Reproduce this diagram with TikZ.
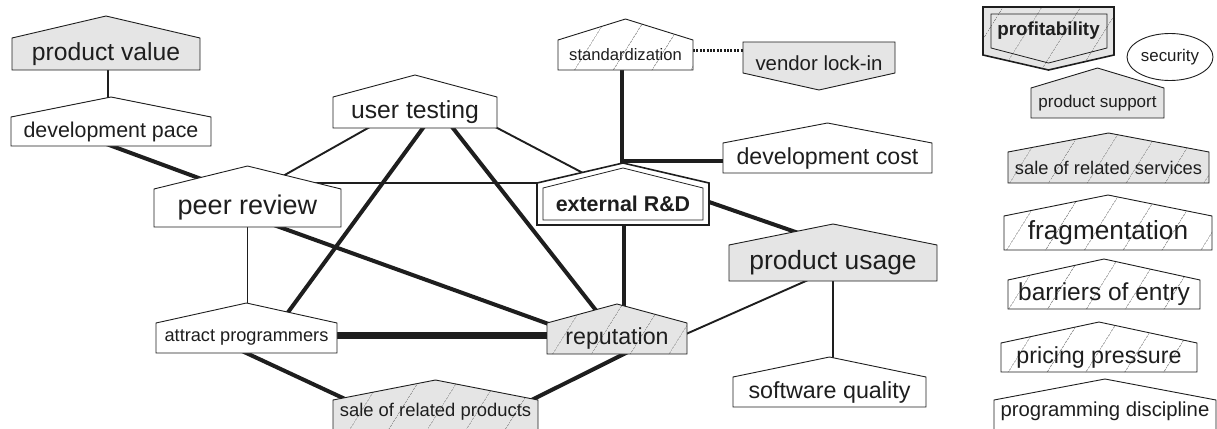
\documentclass[tikz,border=0pt]{standalone}
\usepackage{fontspec}
\setmainfont{Liberation Sans}
\usetikzlibrary{calc,patterns.meta,shapes.geometric}
\pgfdeclarelayer{edgelayer}
\pgfdeclarelayer{shapelayer}
\pgfsetlayers{edgelayer,shapelayer,main}
\definecolor{grayfill}{HTML}{E5E5E5}
\definecolor{hatchgray}{HTML}{8A8A8A}
\definecolor{ink}{HTML}{1E1E1E}
\newcommand{\fsz}[1]{\fontsize{#1pt}{#1pt}\selectfont}
\newcommand{\hup}[3]{\path[#3] (#1.south west) -- (#1.north west) -- ($(#1.north)+(0,-#2)$) -- (#1.north east) -- (#1.south east) -- cycle;}
\newcommand{\hdown}[3]{\path[#3] (#1.north west) -- (#1.south west) -- ($(#1.south)+(0,#2)$) -- (#1.south east) -- (#1.north east) -- cycle;}
\tikzset{
  txt/.style={inner sep=0pt, outer sep=0pt, text=ink},
  shp/.style={draw=ink, line width=0.9pt},
  wfill/.style={shp, fill=white},
  gfill/.style={shp, fill=grayfill},
  hatchG/.style={shp, preaction={fill=grayfill}, pattern={Lines[angle=58,distance=33pt,line width=0.5pt]}, pattern color=hatchgray},
  hatchW/.style={shp, preaction={fill=white}, pattern={Lines[angle=58,distance=33pt,line width=0.5pt]}, pattern color=hatchgray},
  thinE/.style={draw=ink, line width=1.9pt},
  thickE/.style={draw=ink, line width=4pt},
  heavyE/.style={draw=ink, line width=7pt},
  dotE/.style={draw=ink, line width=3pt, dash pattern=on 2pt off 1.4pt},
}
\begin{document}
\begin{tikzpicture}[x=1pt,y=-1pt]
\useasboundingbox (0,0) rectangle (1217,428);
% ---- text nodes (bodies) ----
\node[txt, minimum width=188, minimum height=32, font=\fsz{24.7}] (pv) at (106,54) {product value};
\node[txt, minimum width=200, minimum height=29, font=\fsz{21.4}] (dp) at (111,131.5) {development pace};
\node[txt, minimum width=187, minimum height=38, font=\fsz{27}] (pr) at (247.5,208) {peer review};
\node[txt, minimum width=164, minimum height=31, font=\fsz{24.7}] (ut) at (415,112.5) {user testing};
\node[txt, minimum width=135, minimum height=30, font=\fsz{16.6}] (st) at (625.5,55) {standardization};
\node[txt, minimum width=152, minimum height=31, font=\fsz{20.4}, text height=26pt] (vl) at (819,57.5) {vendor lock-in};
\node[txt, minimum width=209, minimum height=30, font=\fsz{23.2}] (dc) at (827.5,158) {development cost};
\node[txt, minimum width=172, minimum height=42, font=\fsz{21.4}\bfseries] (rd) at (623,204) {external R\&D};
\node[txt, minimum width=208, minimum height=36, font=\fsz{26.4}] (pu) at (833,263) {product usage};
\node[txt, minimum width=140, minimum height=31, font=\fsz{23.2}] (rp) at (617,338.5) {reputation};
\node[txt, minimum width=193, minimum height=30, font=\fsz{23.3}] (sq) at (829.5,392) {software quality};
\node[txt, minimum width=181, minimum height=30, font=\fsz{18.2}] (ap) at (246.5,338) {attract programmers};
\node[txt, minimum width=205, minimum height=31, font=\fsz{18.4}, text depth=12pt] (srp) at (435.5,415.5) {sale of related products};
\node[txt, minimum width=131, minimum height=48, font=\fsz{18.8}\bfseries] (pf) at (1048.5,31) {profitability};
\node[ellipse, draw=ink, line width=0.9pt, minimum width=86, minimum height=47, inner sep=0pt, text=ink, font=\fsz{16.9}] (sc) at (1170,57) {security};
\node[txt, minimum width=133, minimum height=30, font=\fsz{17}] (ps) at (1097.5,103) {product support};
\node[txt, minimum width=201, minimum height=31, font=\fsz{18.3}] (srs) at (1108.5,167.5) {sale of related services};
\node[txt, minimum width=208, minimum height=34, font=\fsz{26.2}] (fr) at (1108,233) {fragmentation};
\node[txt, minimum width=192, minimum height=29, font=\fsz{24.5}] (be) at (1104,294.5) {barriers of entry};
\node[txt, minimum width=196, minimum height=29, font=\fsz{23.2}] (pp) at (1099,357.5) {pricing pressure};
\node[txt, minimum width=222, minimum height=30, font=\fsz{20.3}, text depth=12pt] (pd) at (1105,415) {programming discipline};
% ---- shapes ----
\begin{pgfonlayer}{shapelayer}
\hup{pv}{22}{gfill}
\hup{dp}{20}{wfill}
\hup{pr}{23}{wfill}
\hup{ut}{22}{wfill}
\hup{st}{21}{hatchW}
\hdown{vl}{17}{gfill}
\hup{dc}{20}{wfill}
\hup{rd}{20}{wfill, line width=1.6pt}
\path[draw=ink, line width=0.8pt] ($(rd.south west)+(6,-5)$) -- ($(rd.north west)+(6,5)$) -- ($(rd.north)+(0,-15)$) -- ($(rd.north east)+(-6,5)$) -- ($(rd.south east)+(-6,-5)$) -- cycle;
\hup{pu}{21}{gfill}
\hup{rp}{19}{hatchG}
\hup{sq}{20}{wfill}
\hup{ap}{20}{wfill}
\hup{srp}{20}{hatchG}
\hdown{pf}{15}{hatchG, line width=1.6pt}
\path[draw=ink, line width=0.8pt] ($(pf.north west)+(8,7)$) -- ($(pf.south west)+(8,-7)$) -- ($(pf.south)+(0,8)$) -- ($(pf.south east)+(-7,-7)$) -- ($(pf.north east)+(-7,7)$) -- cycle;
\hup{ps}{20}{gfill}
\hup{srs}{19}{hatchG}
\hup{fr}{21}{hatchW}
\hup{be}{21}{hatchW}
\hup{pp}{21}{hatchW}
\hup{pd}{21}{wfill}
\end{pgfonlayer}
% ---- connectors (under the shapes) ----
\begin{pgfonlayer}{edgelayer}
\coordinate (pvs) at ($(pv.south)+(2,-3)$);
\draw[thinE] (pvs) -- (pvs |- dp.north);
\draw[thickE] ($(dp.south)+(-10,-4)$) -- ($(pr.center)+(0,-12)$);
\draw[thinE] ($(pr.center)+(0,-12)$) -- ($(ut.center)+(0,-11)$);
\coordinate (rdw) at ($(rd.north west)+(10,0)$);
\draw[thinE] (rdw) -- (rdw -| pr.center);
\draw[thinE] ($(ut.south east)+(-10,-5.4)$) -- ($(rd.center)+(0,-10)$);
\draw[thickE] ($(ut.south)+(15.3,-10)$) -- ($(ap.center)+(30,-10)$);
\draw[thickE] ($(ut.south)+(30,-10)$) -- ($(rp.center)+(-6,-9)$);
\coordinate (prs) at ($(pr.south)+(0,-3)$);
\draw[thinE] (prs) -- (prs |- ap.north);
\draw[thickE] ($(pr.south)+(12.5,-7)$) -- ($(rp.center)+(-17,4)$);
\coordinate (rdtop) at ($(rd.north)+(-1,-20)$);
\draw[thickE] (rdtop) -- (rdtop |- st.south);
\coordinate (rdh) at ($(rd.north)+(-1,-22)$);
\draw[thickE] (rdh) -- (rdh -| dc.center);
\coordinate (sth) at ($(st.east)+(0,-4)$);
\draw[dotE] (sth) -- (sth -| vl.west);
\draw[thickE] ($(rd.east)+(-10,-5.5)$) -- ($(pu.center)+(0,-18)$);
\coordinate (rds) at ($(rd.south)+(1,-3)$);
\draw[thickE] (rds) -- (rds |- rp.north);
\coordinate (apr) at ($(ap.east)+(-5,-3)$);
\draw[heavyE] (apr) -- (apr -| rp.center);
\draw[thickE] ($(ap.south)+(-11,-5)$) -- ($(srp.center)+(-55,0)$);
\draw[thickE] ($(rp.south)+(23,-8)$) -- ($(srp.center)+(65,0)$);
\draw[thinE] ($(rp.east)+(-10,-0.5)$) -- ($(pu.center)+(0,6)$);
\coordinate (pus) at ($(pu.south)+(0,-3)$);
\draw[thinE] (pus) -- (pus |- sq.north);
\end{pgfonlayer}
\end{tikzpicture}
\end{document}
